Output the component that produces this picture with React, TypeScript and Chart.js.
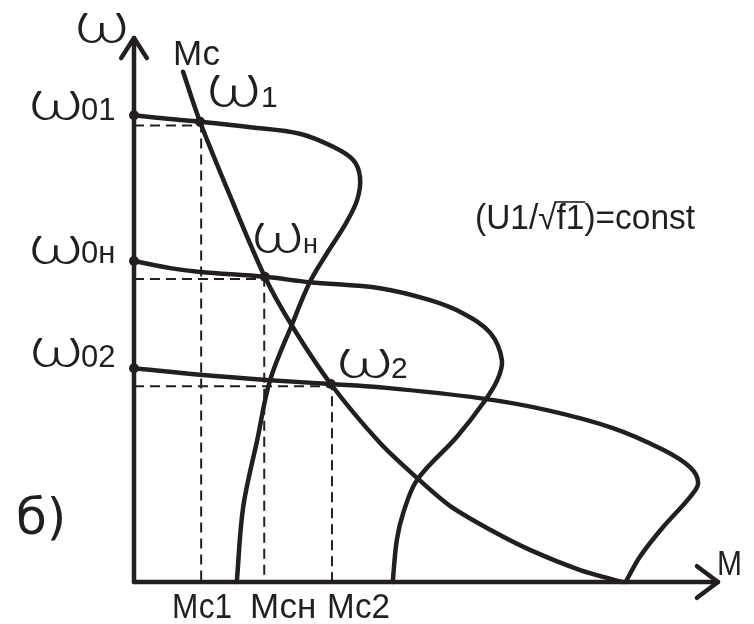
import { useEffect, useRef } from "react";
import { Chart, registerables } from "chart.js";

Chart.register(...registerables);

const INK = "#231f20";

// Mechanical characteristic for frequency f1 (top)
const char1M = [0, 6.2, 11.3, 19.9, 28.4, 34.1, 37.5, 38.7, 38.2, 36.1, 33.2, 30.1, 27.0, 23.3, 21.1, 18.7, 17.6];
const char1W = [85.8, 85.1, 84.6, 83.6, 82.4, 80.0, 77.6, 74.4, 70.2, 65.6, 60.7, 55.1, 47.2, 37.1, 26.1, 13.8, 0];

// Nominal characteristic (middle)
const charNM = [0, 6.2, 11.3, 22.4, 30.1, 42.1, 50.7, 56.3, 61.0, 63.0, 62.2, 59.8, 55.3, 48.5, 46.1, 45.0, 44.3];
const charNW = [59.0, 57.7, 57.0, 56.1, 55.1, 54.0, 51.8, 49.4, 45.8, 40.8, 37.1, 32.9, 26.7, 18.8, 12.7, 7.7, 0];

// Characteristic for frequency f2 (bottom)
const char2M = [0, 11.3, 23.3, 33.7, 42.1, 59.2, 70.7, 82.0, 90.6, 95.2, 96.6, 95.2, 90.6, 86.6, 84.2];
const char2W = [39.3, 38.1, 37.1, 36.4, 35.8, 33.8, 31.6, 28.3, 24.3, 21.1, 18.2, 15.6, 10.1, 4.6, 0];

// Load characteristic Mc
const loadM = [8.4, 11.3, 16.4, 22.4, 27.0, 33.7, 42.1, 48.5, 54.1, 61.0, 67.8, 76.4, 83.6];
const loadW = [93.8, 84.6, 71.1, 56.1, 47.2, 36.4, 25.6, 19.1, 14.0, 9.6, 5.9, 2.2, 0];

// Marked points (no-load speeds and working points)
const dotM = [0, 0, 0, 11.3, 22.4, 33.7];
const dotW = [85.8, 59.0, 39.3, 84.6, 56.1, 36.4];

// Projection lines of the working points
const proj1M = [0, 11.5, 11.5];
const proj1W = [83.9, 83.9, 0];
const projNM = [0, 22.3, 22.3];
const projNW = [55.7, 55.7, 0];
const proj2M = [0, 33.9, 33.9];
const proj2W = [36.0, 36.0, 0];

// Axes with arrows
const axisYM = [0, 0];
const axisYW = [0, 100];
const axisXM = [0, 100];
const axisXW = [0, 0];
const arrowYM = [-2.2, 0, 2.2];
const arrowYW = [96.3, 100, 96.3];
const arrowXM = [96.4, 100, 96.4];
const arrowXW = [2.9, 0, -2.9];

const pts = (xs: number[], ys: number[]) => xs.map((x, i) => ({ x, y: ys[i] }));

const FONT = '"Liberation Sans", Arial, sans-serif';
const OMEGA_FONT = '300 60px Lato, "Open Sans", sans-serif';

function drawOmega(ctx: CanvasRenderingContext2D, left: number, top: number, w: number, h: number) {
  ctx.save();
  ctx.font = OMEGA_FONT;
  const m = ctx.measureText("ω");
  const gw = m.actualBoundingBoxLeft + m.actualBoundingBoxRight;
  const gh = m.actualBoundingBoxAscent + m.actualBoundingBoxDescent;
  ctx.translate(left, top);
  ctx.scale(w / gw, h / gh);
  ctx.textBaseline = "alphabetic";
  ctx.textAlign = "left";
  ctx.fillText("ω", m.actualBoundingBoxLeft, m.actualBoundingBoxAscent);
  ctx.restore();
}

function txt(ctx: CanvasRenderingContext2D, s: string, x: number, y: number, size: number, maxW?: number, family = FONT) {
  ctx.font = `${size}px ${family}`;
  ctx.textAlign = "left";
  ctx.textBaseline = "alphabetic";
  if (maxW) ctx.fillText(s, x, y, maxW);
  else ctx.fillText(s, x, y);
}

const labelsPlugin = {
  id: "labelsPlugin",
  afterDraw(chart: any) {
    const ctx: CanvasRenderingContext2D = chart.ctx;
    ctx.save();
    ctx.fillStyle = INK;
    ctx.strokeStyle = INK;

    // axis title ω
    drawOmega(ctx, 78, 13, 48, 30);
    // Mc
    txt(ctx, "Мс", 173, 65, 35, 47);
    // ω1
    drawOmega(ctx, 210, 76, 48, 31);
    txt(ctx, "1", 261, 107, 30);
    // ω01
    drawOmega(ctx, 32, 91, 48, 29);
    txt(ctx, "01", 81, 120, 31);
    // ω0н
    drawOmega(ctx, 32, 236, 48, 28);
    txt(ctx, "0н", 81, 263, 31);
    // ω02
    drawOmega(ctx, 33, 338, 47, 29);
    txt(ctx, "02", 81, 367, 31);
    // ωн
    drawOmega(ctx, 255, 223, 46, 30);
    txt(ctx, "н", 303, 253, 27);
    // ω2
    drawOmega(ctx, 340, 349, 50, 29);
    txt(ctx, "2", 391, 378, 30);

    // (U1/√f1)=const
    const size = 35;
    ctx.font = `${size}px ${FONT}`;
    const a = "(U1/√";
    const b = "f1";
    const c = ")=const";
    const total = ctx.measureText(a + b + c).width;
    const k = Math.min(1, 220 / total);
    const base = 229;
    ctx.save();
    ctx.translate(475, base);
    ctx.scale(k, 1);
    let x = 0;
    ctx.fillText(a, x, 0);
    x += ctx.measureText(a).width;
    const bw = ctx.measureText(b).width;
    ctx.fillText(b, x, 0);
    ctx.lineWidth = 1.6;
    ctx.beginPath();
    ctx.moveTo(x - 2, -27);
    ctx.lineTo(x + bw + 1, -27);
    ctx.stroke();
    x += bw;
    ctx.fillText(c, x, 0);
    ctx.restore();

    // б)
    txt(ctx, "б)", 16, 534, 50, undefined, '"DejaVu Sans", sans-serif');

    // bottom labels
    txt(ctx, "Мс1", 172, 618, 35, 60);
    txt(ctx, "Мсн", 250, 618, 35, 67);
    txt(ctx, "Мс2", 327, 618, 35, 63);

    // M
    txt(ctx, "M", 717, 575, 35, 25);

    ctx.restore();
  },
};

export default function App() {
  const ref = useRef<HTMLCanvasElement | null>(null);

  useEffect(() => {
    if (!ref.current) return;
    const solid = (xs: number[], ys: number[], tension: number, w = 4.5) => ({
      data: pts(xs, ys),
      showLine: true,
      borderColor: INK,
      borderWidth: w,
      pointRadius: 0,
      tension,
      fill: false,
      clip: false as any,
      borderCapStyle: "round" as const,
      borderJoinStyle: "round" as const,
    });
    const dashed = (xs: number[], ys: number[]) => ({
      data: pts(xs, ys),
      showLine: true,
      borderColor: INK,
      borderWidth: 2,
      borderDash: [10, 6],
      pointRadius: 0,
      tension: 0,
      fill: false,
      clip: false as any,
    });

    const chart = new Chart(ref.current, {
      type: "scatter",
      data: {
        datasets: [
          dashed(proj1M, proj1W),
          dashed(projNM, projNW),
          dashed(proj2M, proj2W),
          solid(char1M, char1W, 0.35),
          solid(charNM, charNW, 0.35),
          solid(char2M, char2W, 0.35),
          solid(loadM, loadW, 0.3),
          solid(axisYM, axisYW, 0),
          solid(axisXM, axisXW, 0),
          solid(arrowYM, arrowYW, 0),
          solid(arrowXM, arrowXW, 0),
          {
            data: pts(dotM, dotW),
            showLine: false,
            pointRadius: 5,
            pointBackgroundColor: INK,
            pointBorderWidth: 0,
            clip: false as any,
          },
        ] as any,
      },
      options: {
        animation: false,
        responsive: false,
        layout: { padding: { left: 134, right: 36, top: 38, bottom: 42 } },
        plugins: { legend: { display: false }, tooltip: { enabled: false } },
        events: [],
        scales: {
          x: { type: "linear", min: 0, max: 100, display: false },
          y: { type: "linear", min: 0, max: 100, display: false },
        },
      },
      plugins: [labelsPlugin],
    });
    return () => chart.destroy();
  }, []);

  return (
    <canvas
      ref={ref}
      width={754}
      height={624}
      style={{ position: "absolute", left: 0, top: 0, width: 754, height: 624, background: "#fff" }}
    />
  );
}
